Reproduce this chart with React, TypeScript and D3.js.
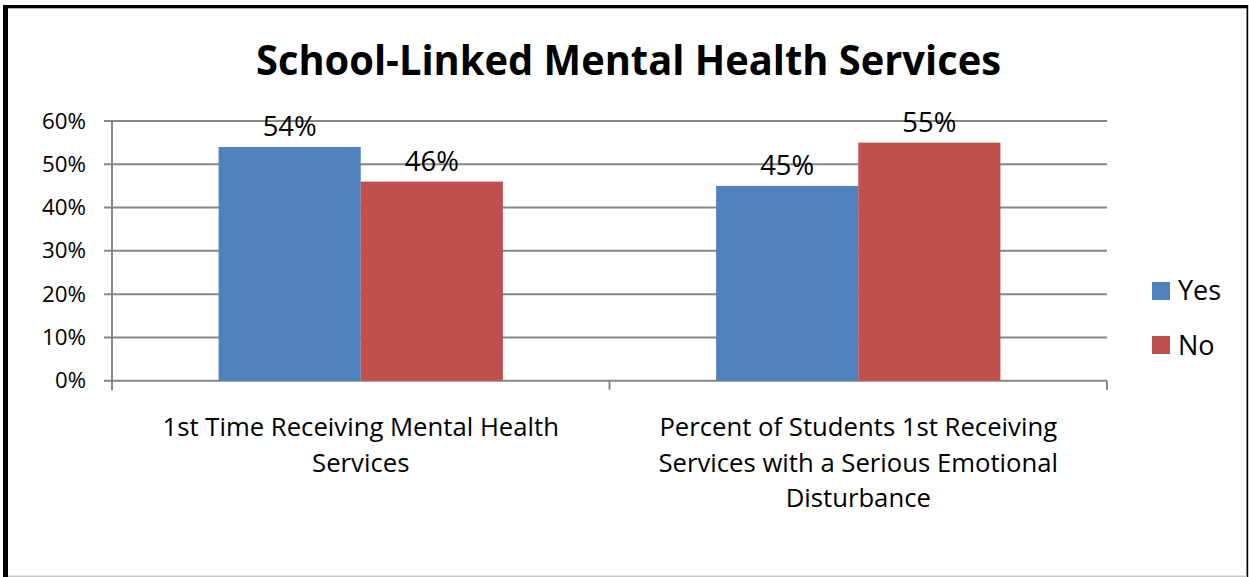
import React from "react";
import * as d3 from "d3";

const title = "School-Linked Mental Health Services";
const categories = [
  ["1st Time Receiving Mental Health", "Services"],
  ["Percent of Students 1st Receiving", "Services with a Serious Emotional", "Disturbance"],
];
const seriesNames = ["Yes", "No"];
const yesValues = [54, 45];
const noValues = [46, 55];
const yTicks = [0, 10, 20, 30, 40, 50, 60];
const colors = ["#4F81BD", "#C0504D"];

const W = 1249;
const H = 577;
const FONT = "'Open Sans', 'DejaVu Sans', sans-serif";

export default function App() {
  const left = 112;
  const right = 1107;
  const top = 121;
  const bottom = 380.7;

  const y = d3.scaleLinear().domain([0, 60]).range([bottom, top]);
  const x0 = d3
    .scaleBand<number>()
    .domain(categories.map((_, i) => i))
    .range([left, right])
    .paddingInner(0)
    .paddingOuter(0);
  // bars occupy 2 units of a 3.5-unit group (gap width 150%)
  const unit = x0.bandwidth() / 3.5;
  const x1 = d3
    .scaleBand<number>()
    .domain([0, 1])
    .range([0.75 * unit, 2.75 * unit])
    .padding(0);

  const series = [yesValues, noValues];
  const catTicks = [left, ...categories.map((_, i) => (x0(i) as number) + x0.bandwidth())];

  return (
    <svg
      width={W}
      height={H}
      style={{ position: "absolute", left: 0, top: 0, background: "#fff" }}
      fontFamily={FONT}
    >
      <rect x={0} y={0} width={W} height={H} fill="#fff" />
      {/* frame */}
      <rect x={3} y={5} width={1245} height={3.3} fill="#000" />
      <rect x={3} y={5} width={5} height={H - 5} fill="#000" />
      <rect x={1246.5} y={5} width={1.7} height={H - 5} fill="#000" />
      <rect x={8} y={575.5} width={1239} height={1.5} fill="#c8c8c8" />

      {/* title */}
      <text
        x={628.5}
        y={75}
        textAnchor="middle"
        fontSize={41}
        fontWeight="bold"
        fill="#000"
        textLength={745}
        lengthAdjust="spacingAndGlyphs"
      >
        {title}
      </text>

      {/* gridlines */}
      {yTicks.map((t) => (
        <line
          key={"g" + t}
          x1={left - 8}
          x2={right}
          y1={y(t)}
          y2={y(t)}
          stroke="#868686"
          strokeWidth={2}
        />
      ))}
      {/* y axis */}
      <line x1={left} x2={left} y1={top} y2={bottom + 9} stroke="#868686" strokeWidth={2} />
      {/* category ticks */}
      {catTicks.map((cx, i) => (
        <line key={"ct" + i} x1={cx} x2={cx} y1={bottom} y2={bottom + 9} stroke="#868686" strokeWidth={2} />
      ))}
      {/* y tick labels */}
      {yTicks.map((t) => (
        <text
          key={"yl" + t}
          x={86}
          y={y(t) + 7.5}
          textAnchor="end"
          fontSize={21}
          fill="#000"
          textLength={t === 0 ? 31 : 44}
          lengthAdjust="spacingAndGlyphs"
        >
          {t + "%"}
        </text>
      ))}

      {/* bars */}
      {categories.map((_, ci) =>
        series.map((vals, si) => {
          const bx = (x0(ci) as number) + (x1(si) as number);
          const bw = x1.bandwidth();
          const v = vals[ci];
          return (
            <g key={`b${ci}-${si}`}>
              <rect x={bx} y={y(v)} width={bw} height={y(0) - y(v)} fill={colors[si]} />
              <text
                x={bx + bw / 2}
                y={y(v) - 11}
                textAnchor="middle"
                fontSize={28}
                fill="#000"
                textLength={54}
                lengthAdjust="spacingAndGlyphs"
              >
                {v + "%"}
              </text>
            </g>
          );
        })
      )}

      {/* category labels */}
      {categories.map((lines, ci) => {
        const cx = (x0(ci) as number) + x0.bandwidth() / 2;
        return lines.map((ln, li) => (
          <text
            key={`cl${ci}-${li}`}
            x={cx}
            y={436 + li * 35.7}
            textAnchor="middle"
            fontSize={25.7}
            fill="#000"
          >
            {ln}
          </text>
        ));
      })}

      {/* legend */}
      {seriesNames.map((name, i) => (
        <g key={"lg" + i}>
          <rect x={1152} y={282 + i * 54} width={18} height={18} fill={colors[i]} />
          <text x={1178} y={300 + i * 54.5} fontSize={27} fill="#000">
            {name}
          </text>
        </g>
      ))}
    </svg>
  );
}
